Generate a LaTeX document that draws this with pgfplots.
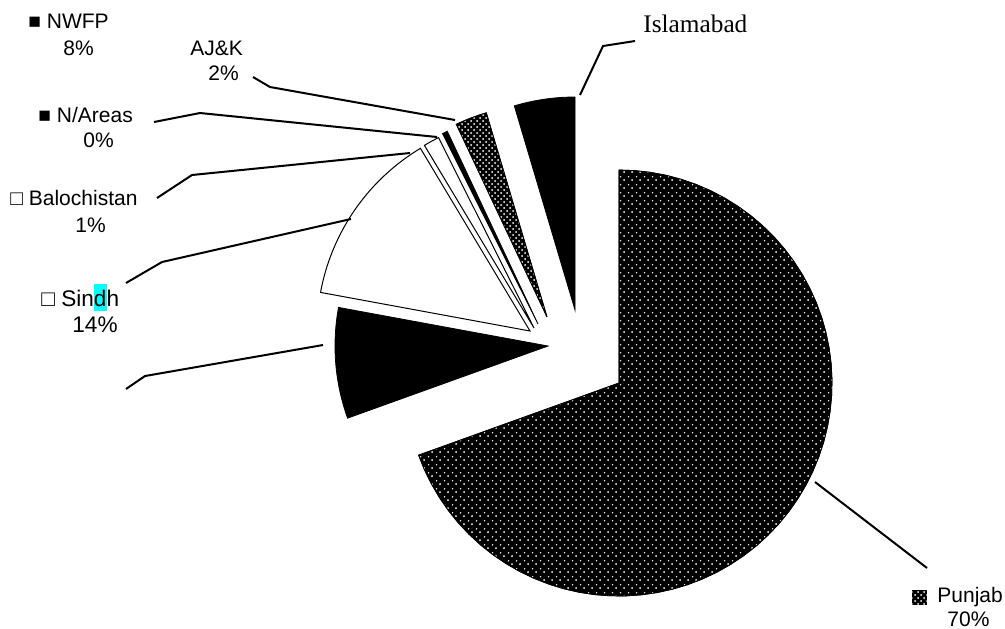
\documentclass[border=0pt]{standalone}
\usepackage{fontspec}
\setmainfont{Liberation Sans}
\newfontfamily\timesfont{Liberation Serif}
\usepackage{pgfplots}
\pgfplotsset{compat=1.18}
\usetikzlibrary{patterns}
\definecolor{hl}{RGB}{0,255,255}

\pgfdeclarepatternformonly{sparsedots}{\pgfqpoint{-1pt}{-1pt}}{\pgfqpoint{3pt}{3pt}}{\pgfqpoint{4pt}{4pt}}{%
  \pgfpathcircle{\pgfqpoint{0pt}{0pt}}{.5pt}%
  \pgfpathcircle{\pgfqpoint{2.3pt}{1.6pt}}{.4pt}%
  \pgfusepath{fill}}

% shares (percent)
\def\vPunjab{69.5}
\def\vNWFP{8.4}
\def\vSindh{13.5}
\def\vBaloch{1.2}
\def\vNAreas{0.4}
\def\vAJK{2.4}
\def\vIsb{4.6}

\pgfmathsetmacro\aA{90}
\pgfmathsetmacro\aB{\aA-3.6*\vPunjab}
\pgfmathsetmacro\aC{\aB-3.6*\vNWFP}
\pgfmathsetmacro\aD{\aC-3.6*\vSindh}
\pgfmathsetmacro\aE{\aD-3.6*\vBaloch}
\pgfmathsetmacro\aF{\aE-3.6*\vNAreas}
\pgfmathsetmacro\aG{\aF-3.6*\vAJK}
\pgfmathsetmacro\aH{\aG-3.6*\vIsb}

\def\R{213}
\newcommand\slice[5]{%
  \addplot[#5, domain=#1:#2, samples=60]
    ({#3+\R*cos(x)},{#4-\R*sin(x)}) -- (axis cs:#3,#4) -- cycle;}

\begin{document}
\begin{tikzpicture}
\begin{axis}[scale only axis, width=502.5pt, height=314pt,
  xmin=0, xmax=1005, ymin=0, ymax=628, y dir=reverse,
  hide axis, clip=false]
\path (rel axis cs:0,0) rectangle (rel axis cs:1,1);

% slices
\slice{\aB}{\aA}{619}{383}{draw=black, line width=0.4pt, fill=black, postaction={pattern=sparsedots, pattern color=white}}
\slice{\aC}{\aB}{548}{346}{draw=black, line width=0.4pt, fill=black}
\slice{\aD}{\aC}{530}{331}{draw=black, line width=0.5pt, fill=white}
\slice{\aH}{\aG}{575}{310}{draw=black, line width=0.4pt, fill=black}
\slice{\aG}{\aF}{547}{317}{draw=black, line width=0.4pt, fill=black, postaction={pattern=crosshatch dots, pattern color=white}}
\slice{\aF}{\aE}{538}{324}{draw=black, line width=0.4pt, fill=black}
\slice{\aE}{\aD}{534}{328}{draw=black, line width=0.5pt, fill=white}

% leader lines
\addplot[black, line width=1pt, mark=none] coordinates {(635,41) (603,46) (580,95)};
\addplot[black, line width=1pt, mark=none] coordinates {(253,77) (270,87) (455,120)};
\addplot[black, line width=1pt, mark=none] coordinates {(154,122) (200,113) (437,137)};
\addplot[black, line width=1pt, mark=none] coordinates {(157,198) (192,175) (410,153)};
\addplot[black, line width=1pt, mark=none] coordinates {(126,283) (162,262) (351,219)};
\addplot[black, line width=1pt, mark=none] coordinates {(126,389) (145,376) (323,345)};
\addplot[black, line width=1pt, mark=none] coordinates {(815,482) (927,568)};

% labels
\tikzset{lab/.style={anchor=base west, inner sep=0pt, font=\fontsize{10.5}{12.6}\selectfont}}
\node[lab] at (axis cs:28,28) {■ NWFP};
\node[lab] at (axis cs:63,55) {8\%};
\node[lab] at (axis cs:190,55) {AJ\&K};
\node[lab] at (axis cs:208,80) {2\%};
\node[lab] at (axis cs:38,122) {■ N/Areas};
\node[lab] at (axis cs:83,147) {0\%};
\node[lab] at (axis cs:10,205) {□ Balochistan};
\node[lab] at (axis cs:75,232) {1\%};
\node[lab, font=\fontsize{11.3}{13.5}\selectfont] at (axis cs:41,306) {□ Sin{\setlength{\fboxsep}{0pt}\colorbox{hl}{\rule[-2.5pt]{0pt}{13.5pt}d}}h};
\node[lab, font=\fontsize{11.3}{13.5}\selectfont] at (axis cs:72,332) {14\%};
\node[anchor=north west, inner sep=0pt, minimum size=7.5pt, fill=black, postaction={pattern=crosshatch dots, pattern color=white}] at (axis cs:912,590) {};
\node[lab] at (axis cs:937,602) {Punjab};
\node[lab] at (axis cs:947,626) {70\%};
\node[anchor=base west, inner sep=0pt, font=\timesfont\fontsize{12.65}{15}\selectfont] at (axis cs:643,32) {Islamabad};
\end{axis}
\end{tikzpicture}
\end{document}
